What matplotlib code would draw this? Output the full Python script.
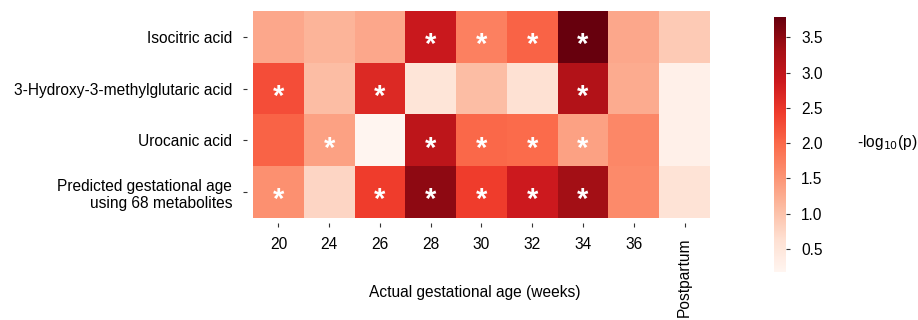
import numpy as np
import matplotlib.pyplot as plt

plt.rcParams['font.family'] = ['Liberation Sans', 'DejaVu Sans']

weeks = ['20', '24', '26', '28', '30', '32', '34', '36', 'Postpartum']
metabolites = ['Isocitric acid',
               '3-Hydroxy-3-methylglutaric acid',
               'Urocanic acid',
               'Predicted gestational age\nusing 68 metabolites']

# -log10(p) per metabolite and time point
isocitric = [1.30, 1.15, 1.30, 2.90, 1.73, 2.05, 3.79, 1.30, 0.90]
hmg = [2.25, 1.05, 2.67, 0.53, 1.05, 0.62, 3.17, 1.25, 0.28]
urocanic = [2.05, 1.37, 0.17, 3.05, 2.00, 1.97, 1.37, 1.65, 0.27]
predicted = [1.55, 0.75, 2.43, 3.50, 2.43, 2.87, 3.35, 1.62, 0.57]

# significance flags
sig_isocitric = [0, 0, 0, 1, 1, 1, 1, 0, 0]
sig_hmg = [1, 0, 1, 0, 0, 0, 1, 0, 0]
sig_urocanic = [0, 1, 0, 1, 1, 1, 1, 0, 0]
sig_predicted = [1, 0, 1, 1, 1, 1, 1, 0, 0]

vals = np.array([isocitric, hmg, urocanic, predicted])
sig = np.array([sig_isocitric, sig_hmg, sig_urocanic, sig_predicted])

fs = 11.2
fig = plt.figure(figsize=(9.18, 3.2), dpi=100)
ax = fig.add_axes([0.2756, 0.319, 0.4978, 0.6466])
cax = fig.add_axes([0.843, 0.15, 0.013, 0.797])

# spines first: moving them resets the tick labels
for s in ax.spines.values():
    s.set_visible(False)
ax.spines['bottom'].set_position(('outward', 4))
ax.spines['left'].set_position(('outward', 4))

mesh = ax.pcolormesh(vals, cmap='Reds', vmin=vals.min(), vmax=vals.max())
ax.set_xlim(0, vals.shape[1])
ax.set_ylim(vals.shape[0], 0)

for i in range(vals.shape[0]):
    for j in range(vals.shape[1]):
        if sig[i, j]:
            ax.text(j + 0.5, i + 0.66, '*', color='white', ha='center',
                    va='center', fontsize=21, fontweight='bold')

ax.set_xticks(np.arange(len(weeks)) + 0.5)
xlabs = ax.set_xticklabels(weeks, fontsize=fs)
xlabs[-1].set_rotation(90)
ax.set_yticks(np.arange(len(metabolites)) + 0.5)
ax.set_yticklabels(metabolites, fontsize=fs, ha='right')
ax.tick_params(length=3, width=0.8, color='#333333')
ax.tick_params(axis='x', pad=7)
ax.tick_params(axis='y', pad=8)
ax.set_xlabel('Actual gestational age (weeks)', fontsize=fs)
ax.xaxis.set_label_coords(0.486, -0.325)

cb = fig.colorbar(mesh, cax=cax)
cb.outline.set_visible(False)
cb.set_ticks([0.5, 1.0, 1.5, 2.0, 2.5, 3.0, 3.5])
cax.tick_params(length=3, width=0.8, color='#333333', labelsize=fs, pad=8)
fig.text(0.966, 0.555, '-log$_{10}$(p)', fontsize=fs, ha='center', va='center')

fig.savefig('out.png', dpi=100)
